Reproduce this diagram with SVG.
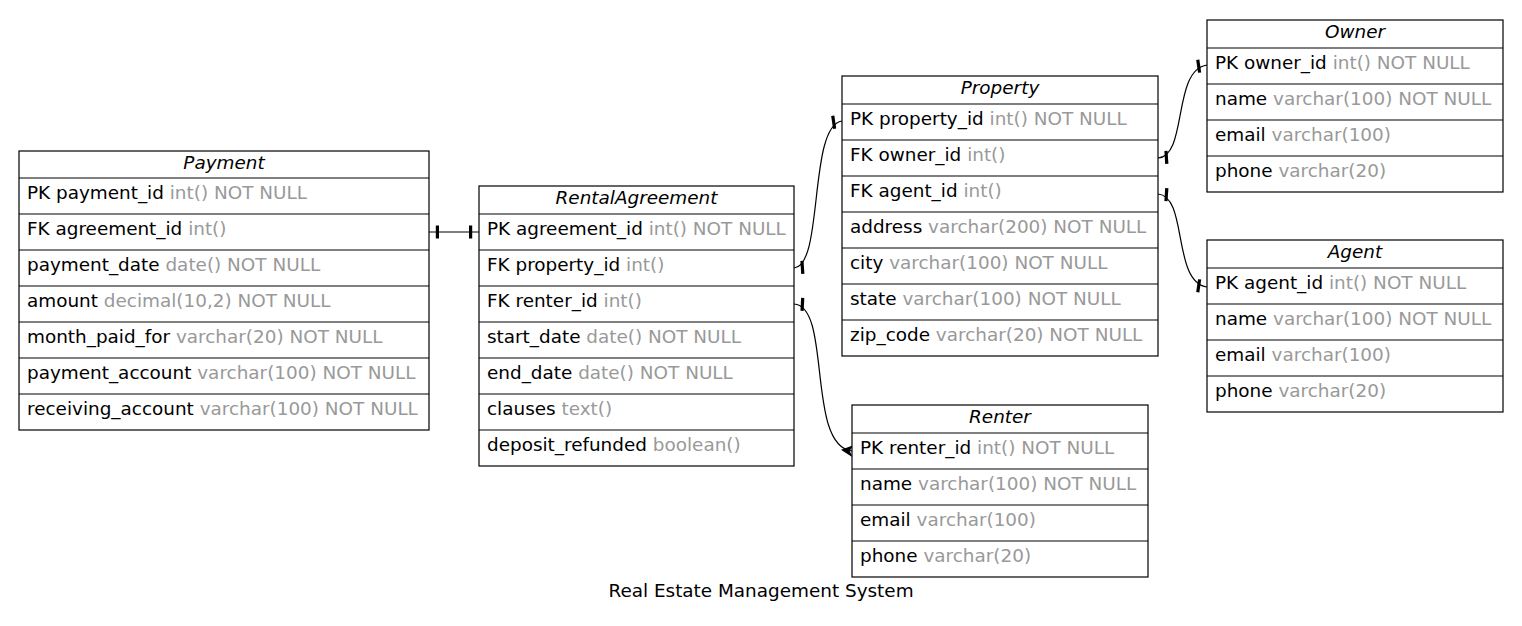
<svg xmlns="http://www.w3.org/2000/svg" width="1522" height="626" viewBox="0 0 1522 626">
<style>
text{font-family:"DejaVu Sans","Liberation Sans",sans-serif;font-size:18.4px;fill:#000}
.h{font-style:italic;text-anchor:middle}
.t{fill:#999}
.box{fill:#fff;stroke:#000;stroke-width:1.2}
.ln{stroke:#000;stroke-width:1.2}
.e{fill:none;stroke:#000;stroke-width:1.2}
</style>
<defs>
<marker id="tee" markerUnits="userSpaceOnUse" viewBox="-14 -8 16 16" markerWidth="16" markerHeight="16" refX="0" refY="0" orient="auto-start-reverse" overflow="visible">
<rect x="-10" y="-6.5" width="3.2" height="13" fill="#000"/>
</marker>
<marker id="crow" markerUnits="userSpaceOnUse" viewBox="-14 -8 16 16" markerWidth="16" markerHeight="16" refX="0" refY="0" orient="auto" overflow="visible">
<path d="M-10,0 L0,-5 L-3,0 L0,5 Z" fill="#000" stroke="#000" stroke-width="1"/>
</marker>
</defs>
<rect width="1522" height="626" fill="#fff"/>

<g id="connectors">
<path class="e" d="M429,232 L479,232" marker-start="url(#tee)" marker-end="url(#tee)"/>
<path class="e" d="M794,268 C824,266 808,126 842,121" marker-start="url(#tee)" marker-end="url(#tee)"/>
<path class="e" d="M794,304 C832,306 806,446 852,451" marker-start="url(#tee)" marker-end="url(#crow)"/>
<path class="e" d="M1158,158 C1188,156 1172,70 1207,65" marker-start="url(#tee)" marker-end="url(#tee)"/>
<path class="e" d="M1158,194 C1188,196 1172,282 1207,287" marker-start="url(#tee)" marker-end="url(#tee)"/>
</g>

<g id="Payment">
<rect class="box" x="19" y="151" width="410" height="279"/>
<line class="ln" x1="19" y1="178" x2="429" y2="178"/>
<line class="ln" x1="19" y1="214" x2="429" y2="214"/>
<line class="ln" x1="19" y1="250" x2="429" y2="250"/>
<line class="ln" x1="19" y1="286" x2="429" y2="286"/>
<line class="ln" x1="19" y1="322" x2="429" y2="322"/>
<line class="ln" x1="19" y1="358" x2="429" y2="358"/>
<line class="ln" x1="19" y1="394" x2="429" y2="394"/>
<text class="h" x="224" y="169">Payment</text>
<text x="27" y="199">PK payment_id <tspan class="t">int() NOT NULL</tspan></text>
<text x="27" y="235">FK agreement_id <tspan class="t">int()</tspan></text>
<text x="27" y="271">payment_date <tspan class="t">date() NOT NULL</tspan></text>
<text x="27" y="307">amount <tspan class="t">decimal(10,2) NOT NULL</tspan></text>
<text x="27" y="343">month_paid_for <tspan class="t">varchar(20) NOT NULL</tspan></text>
<text x="27" y="379">payment_account <tspan class="t">varchar(100) NOT NULL</tspan></text>
<text x="27" y="415">receiving_account <tspan class="t">varchar(100) NOT NULL</tspan></text>
</g>

<g id="RentalAgreement">
<rect class="box" x="479" y="186" width="315" height="280"/>
<line class="ln" x1="479" y1="214" x2="794" y2="214"/>
<line class="ln" x1="479" y1="250" x2="794" y2="250"/>
<line class="ln" x1="479" y1="286" x2="794" y2="286"/>
<line class="ln" x1="479" y1="322" x2="794" y2="322"/>
<line class="ln" x1="479" y1="358" x2="794" y2="358"/>
<line class="ln" x1="479" y1="394" x2="794" y2="394"/>
<line class="ln" x1="479" y1="430" x2="794" y2="430"/>
<text class="h" x="636.5" y="204">RentalAgreement</text>
<text x="487" y="235">PK agreement_id <tspan class="t">int() NOT NULL</tspan></text>
<text x="487" y="271">FK property_id <tspan class="t">int()</tspan></text>
<text x="487" y="307">FK renter_id <tspan class="t">int()</tspan></text>
<text x="487" y="343">start_date <tspan class="t">date() NOT NULL</tspan></text>
<text x="487" y="379">end_date <tspan class="t">date() NOT NULL</tspan></text>
<text x="487" y="415">clauses <tspan class="t">text()</tspan></text>
<text x="487" y="451">deposit_refunded <tspan class="t">boolean()</tspan></text>
</g>

<g id="Property">
<rect class="box" x="842" y="76" width="316" height="280"/>
<line class="ln" x1="842" y1="104" x2="1158" y2="104"/>
<line class="ln" x1="842" y1="140" x2="1158" y2="140"/>
<line class="ln" x1="842" y1="176" x2="1158" y2="176"/>
<line class="ln" x1="842" y1="212" x2="1158" y2="212"/>
<line class="ln" x1="842" y1="248" x2="1158" y2="248"/>
<line class="ln" x1="842" y1="284" x2="1158" y2="284"/>
<line class="ln" x1="842" y1="320" x2="1158" y2="320"/>
<text class="h" x="1000" y="94">Property</text>
<text x="850" y="125">PK property_id <tspan class="t">int() NOT NULL</tspan></text>
<text x="850" y="161">FK owner_id <tspan class="t">int()</tspan></text>
<text x="850" y="197">FK agent_id <tspan class="t">int()</tspan></text>
<text x="850" y="233">address <tspan class="t">varchar(200) NOT NULL</tspan></text>
<text x="850" y="269">city <tspan class="t">varchar(100) NOT NULL</tspan></text>
<text x="850" y="305">state <tspan class="t">varchar(100) NOT NULL</tspan></text>
<text x="850" y="341">zip_code <tspan class="t">varchar(20) NOT NULL</tspan></text>
</g>

<g id="Owner">
<rect class="box" x="1207" y="20" width="296" height="172"/>
<line class="ln" x1="1207" y1="48" x2="1503" y2="48"/>
<line class="ln" x1="1207" y1="84" x2="1503" y2="84"/>
<line class="ln" x1="1207" y1="120" x2="1503" y2="120"/>
<line class="ln" x1="1207" y1="156" x2="1503" y2="156"/>
<text class="h" x="1355" y="38">Owner</text>
<text x="1215" y="69">PK owner_id <tspan class="t">int() NOT NULL</tspan></text>
<text x="1215" y="105">name <tspan class="t">varchar(100) NOT NULL</tspan></text>
<text x="1215" y="141">email <tspan class="t">varchar(100)</tspan></text>
<text x="1215" y="177">phone <tspan class="t">varchar(20)</tspan></text>
</g>

<g id="Agent">
<rect class="box" x="1207" y="240" width="296" height="172"/>
<line class="ln" x1="1207" y1="268" x2="1503" y2="268"/>
<line class="ln" x1="1207" y1="304" x2="1503" y2="304"/>
<line class="ln" x1="1207" y1="340" x2="1503" y2="340"/>
<line class="ln" x1="1207" y1="376" x2="1503" y2="376"/>
<text class="h" x="1355" y="258">Agent</text>
<text x="1215" y="289">PK agent_id <tspan class="t">int() NOT NULL</tspan></text>
<text x="1215" y="325">name <tspan class="t">varchar(100) NOT NULL</tspan></text>
<text x="1215" y="361">email <tspan class="t">varchar(100)</tspan></text>
<text x="1215" y="397">phone <tspan class="t">varchar(20)</tspan></text>
</g>

<g id="Renter">
<rect class="box" x="852" y="405" width="296" height="172"/>
<line class="ln" x1="852" y1="433" x2="1148" y2="433"/>
<line class="ln" x1="852" y1="469" x2="1148" y2="469"/>
<line class="ln" x1="852" y1="505" x2="1148" y2="505"/>
<line class="ln" x1="852" y1="541" x2="1148" y2="541"/>
<text class="h" x="1000" y="423">Renter</text>
<text x="860" y="454">PK renter_id <tspan class="t">int() NOT NULL</tspan></text>
<text x="860" y="490">name <tspan class="t">varchar(100) NOT NULL</tspan></text>
<text x="860" y="526">email <tspan class="t">varchar(100)</tspan></text>
<text x="860" y="562">phone <tspan class="t">varchar(20)</tspan></text>
</g>

<text x="761" y="597" style="text-anchor:middle">Real Estate Management System</text>
</svg>
